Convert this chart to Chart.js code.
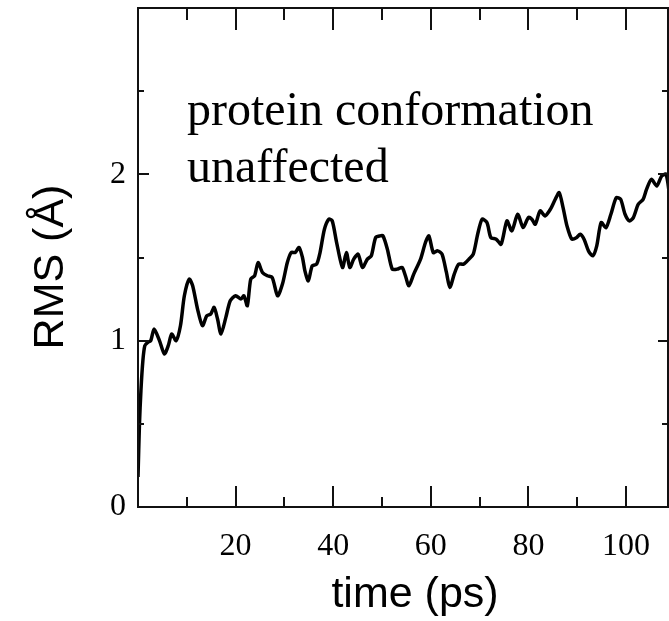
<!DOCTYPE html>
<html>
<head>
<meta charset="utf-8">
<script src="https://cdn.jsdelivr.net/npm/chart.js@4"></script>
<style>
  html, body { margin: 0; padding: 0; background: #fff; }
  canvas { display: block; }
</style>
</head>
<body>
<canvas id="rmsChart" width="669" height="621"></canvas>
<script>
// RMS deviation vs simulation time
var timePs = [0, 0.3, 0.6, 1.0, 1.4, 2.0, 2.6, 3.3, 4.4, 5.4, 6.2, 6.9, 7.8, 8.7, 9.5, 10.5, 11.2, 12.2, 13.2, 14.1,
  14.9, 15.6, 16.3, 17.0, 18.0, 18.9, 20.0, 21.1, 21.7, 22.4, 23.1, 23.9, 24.6, 25.5, 26.5, 27.5, 28.6, 29.6, 30.6, 31.4,
  32.2, 33.0, 33.7, 34.2, 34.9, 35.7, 36.6, 37.3, 38.2, 39.1, 39.8, 40.7, 41.9, 42.7, 43.4, 44.2, 45.1, 46.0, 47.0, 47.8,
  48.7, 49.6, 50.2, 51.1, 52.1, 53.1, 54.1, 54.8, 55.5, 56.5, 57.9, 58.9, 59.6, 60.5, 61.4, 62.3, 63.2, 63.9, 64.8, 65.7,
  66.7, 67.8, 68.7, 69.6, 70.5, 71.5, 72.3, 73.4, 74.4, 75.6, 76.6, 77.8, 78.9, 80.0, 80.7, 81.4, 82.4, 83.4, 84.5, 85.5,
  86.3, 87.1, 87.9, 88.9, 89.9, 90.6, 91.4, 92.3, 93.2, 94.0, 94.9, 95.9, 96.9, 98.0, 98.9, 99.8, 100.7, 101.5, 102.5, 103.5,
  104.2, 105.2, 106.3, 107.3, 108.2, 108.9];
var rmsValues = [0.18, 0.50, 0.70, 0.88, 0.97, 0.99, 1.00, 1.07, 1.00, 0.92, 0.97, 1.04, 1.00, 1.09, 1.27, 1.37, 1.33, 1.19, 1.09, 1.15,
  1.16, 1.20, 1.13, 1.04, 1.14, 1.24, 1.27, 1.25, 1.27, 1.21, 1.37, 1.39, 1.47, 1.41, 1.39, 1.38, 1.27, 1.34, 1.47, 1.53,
  1.53, 1.56, 1.50, 1.42, 1.36, 1.45, 1.46, 1.53, 1.67, 1.73, 1.72, 1.59, 1.44, 1.53, 1.44, 1.49, 1.52, 1.44, 1.49, 1.51,
  1.62, 1.63, 1.63, 1.55, 1.43, 1.43, 1.44, 1.39, 1.33, 1.40, 1.49, 1.59, 1.63, 1.53, 1.54, 1.52, 1.41, 1.32, 1.40, 1.46,
  1.46, 1.49, 1.52, 1.64, 1.73, 1.71, 1.62, 1.61, 1.58, 1.72, 1.66, 1.76, 1.68, 1.74, 1.73, 1.70, 1.78, 1.75, 1.79, 1.85,
  1.89, 1.80, 1.69, 1.61, 1.62, 1.64, 1.61, 1.54, 1.51, 1.57, 1.71, 1.68, 1.76, 1.86, 1.85, 1.76, 1.72, 1.74, 1.82, 1.85,
  1.91, 1.97, 1.93, 1.99, 2.00, 1.88];

var xTickLabels = [20, 40, 60, 80, 100];
var xMinorTicks = [10, 30, 50, 70, 90];
var yTickLabels = [0, 1, 2];
var yMinorTicks = [0.5, 1.5, 2.5];
var xRange = [0, 108.6];
var yRange = [0, 3];

var xTitle = "time (ps)";
var yTitle = "RMS (\u00C5)";
var noteLines = ["protein conformation", "unaffected"];

var points = timePs.map(function(t, i){ return {x: t, y: rmsValues[i]}; });

// frame with inward ticks, axis titles and the note
var framePlugin = {
  id: 'frame',
  afterDraw: function(chart){
    var ctx = chart.ctx;
    var a = chart.chartArea;
    var xs = chart.scales.x, ys = chart.scales.y;
    ctx.save();
    ctx.strokeStyle = '#111';
    ctx.lineWidth = 2;
    ctx.strokeRect(a.left, a.top, a.right - a.left, a.bottom - a.top);

    ctx.beginPath();
    xTickLabels.concat(xMinorTicks).forEach(function(v){
      var px = Math.round(xs.getPixelForValue(v));
      var major = xTickLabels.indexOf(v) >= 0;
      ctx.moveTo(px, a.bottom); ctx.lineTo(px, a.bottom - (major ? 21 : 10));
      ctx.moveTo(px, a.top); ctx.lineTo(px, a.top + (major ? 22 : 12));
    });
    yTickLabels.concat(yMinorTicks).forEach(function(v){
      var py = Math.round(ys.getPixelForValue(v));
      var major = yTickLabels.indexOf(v) >= 0;
      ctx.moveTo(a.left, py); ctx.lineTo(a.left + (major ? 11 : 6), py);
      ctx.moveTo(a.right, py); ctx.lineTo(a.right - (major ? 10 : 6), py);
    });
    ctx.stroke();

    ctx.fillStyle = '#000';
    ctx.font = '43px "Liberation Sans", Arial, sans-serif';
    ctx.textAlign = 'center';
    ctx.textBaseline = 'alphabetic';
    ctx.fillText(xTitle, 415, 607);

    ctx.save();
    ctx.translate(63, 267);
    ctx.rotate(-Math.PI / 2);
    ctx.fillText(yTitle, 0, 0);
    ctx.restore();

    ctx.font = '48px "Liberation Serif", "Times New Roman", serif';
    ctx.textAlign = 'left';
    ctx.fillText(noteLines[0], 187, 125);
    ctx.fillText(noteLines[1], 187, 182);
    ctx.restore();
  }
};

var ctxR = document.getElementById("rmsChart").getContext('2d');
var rmsChart = new Chart(ctxR, {
  type: 'line',
  data: {
    datasets: [{
      data: points,
      borderColor: '#000',
      borderWidth: 3.5,
      pointRadius: 0,
      tension: 0.25,
      fill: false
    }]
  },
  options: {
    responsive: false,
    animation: false,
    layout: { padding: { left: 0, right: 1, top: 8, bottom: 0 } },
    plugins: { legend: { display: false }, tooltip: { enabled: false } },
    scales: {
      x: {
        type: 'linear',
        min: xRange[0],
        max: xRange[1],
        grid: { display: false, drawTicks: false },
        border: { display: false },
        afterBuildTicks: function(s){ s.ticks = xTickLabels.map(function(v){ return {value: v}; }); },
        afterFit: function(s){ s.height = 114; s.paddingLeft = 0; s.paddingRight = 0; },
        ticks: {
          color: '#000',
          padding: 20,
          maxRotation: 0,
          font: { family: '"Liberation Serif", "Times New Roman", serif', size: 32 }
        }
      },
      y: {
        min: yRange[0],
        max: yRange[1],
        grid: { display: false, drawTicks: false },
        border: { display: false },
        afterBuildTicks: function(s){ s.ticks = yTickLabels.map(function(v){ return {value: v}; }); },
        afterFit: function(s){ s.width = 138; s.paddingTop = 0; s.paddingBottom = 0; },
        ticks: {
          color: '#000',
          padding: 12,
          font: { family: '"Liberation Serif", "Times New Roman", serif', size: 32 }
        }
      }
    }
  },
  plugins: [framePlugin]
});
</script>
</body>
</html>
